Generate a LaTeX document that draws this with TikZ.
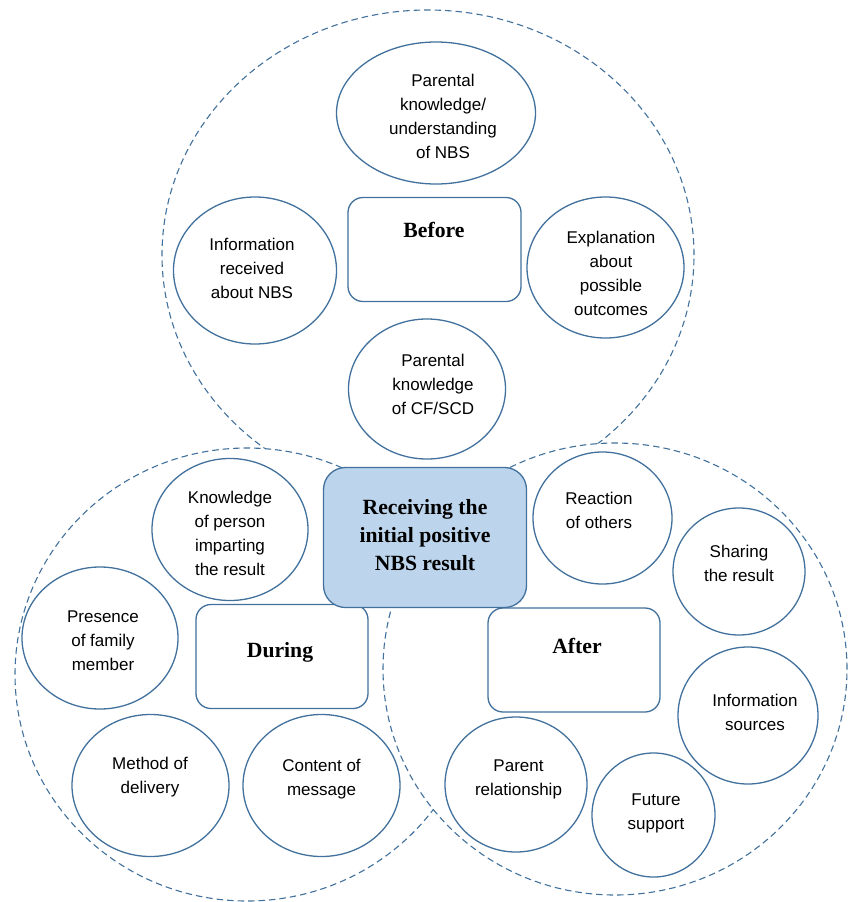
\documentclass[tikz,border=0pt]{standalone}
\usepackage{fontspec}
\setmainfont{Liberation Serif}
\newfontfamily\arialf{Liberation Sans}
\usetikzlibrary{shapes.geometric}
\definecolor{lineblue}{RGB}{65,113,156}
\definecolor{boxfill}{RGB}{189,213,236}
\tikzset{
  bigell/.style={ellipse, draw=lineblue, fill=white, dashed, dash pattern=on 6.5pt off 4pt, line width=1.1pt, inner sep=0pt},
  smallell/.style={ellipse, draw=lineblue, fill=white, line width=1.3pt, inner sep=0pt},
  stagebox/.style={draw=lineblue, fill=white, line width=1.3pt, rounded corners=15pt, inner sep=0pt},
  centerbox/.style={draw=lineblue, fill=boxfill, line width=1.3pt, rounded corners=22pt, inner sep=0pt},
  txt/.style={align=center, inner sep=0pt, font={\arialf\fontsize{17}{24}\selectfont}},
  ttl/.style={align=center, inner sep=0pt, font={\bfseries\fontsize{21.7}{28}\selectfont}}
}
\begin{document}
\begin{tikzpicture}[x=1pt,y=-1pt]
\useasboundingbox (0,0) rectangle (850,902);
% big dashed regions
\node[bigell, minimum width=532pt, minimum height=490pt] (regbefore) at (428,255) {};
\node[bigell, minimum width=464pt, minimum height=453pt] (regduring) at (247,674.5) {};
\node[bigell, minimum width=464pt, minimum height=452pt] (regafter) at (615,669) {};
% Before
\node[smallell, minimum width=199pt, minimum height=142pt] (b1) at (436,113) {};
\node[txt] (b1t) at (443,116) {Parental\\knowledge/\\understanding\\of NBS};
\node[stagebox, minimum width=173pt, minimum height=104pt] (beforebox) at (434.5,249.5) {};
\node[ttl] (beforet) at (434,230) {Before};
\node[smallell, minimum width=163pt, minimum height=147pt] (b2) at (255,270.5) {};
\node[txt] (b2t) at (252,268) {Information\\received\\about NBS};
\node[smallell, minimum width=157pt, minimum height=141pt] (b3) at (605.5,267.5) {};
\node[txt] (b3t) at (611,273) {Explanation\\about\\possible\\outcomes};
\node[smallell, minimum width=157pt, minimum height=140pt] (b4) at (427,389) {};
\node[txt] (b4t) at (433,384) {Parental\\knowledge\\of CF/SCD};
% During
\node[smallell, minimum width=156pt, minimum height=142pt] (d1) at (230,529.5) {};
\node[txt] (d1t) at (230,533) {Knowledge\\of person\\imparting\\the result};
\node[smallell, minimum width=156pt, minimum height=142pt] (d2) at (100,638) {};
\node[txt] (d2t) at (103,641) {Presence\\of family\\member};
\node[stagebox, minimum width=172pt, minimum height=104pt] (duringbox) at (282,656.5) {};
\node[ttl] (duringt) at (280,652) {During};
\node[smallell, minimum width=157pt, minimum height=142pt] (d3) at (150.5,785.5) {};
\node[txt] (d3t) at (150,777) {Method of\\delivery};
\node[smallell, minimum width=157pt, minimum height=142pt] (d4) at (321.5,785.5) {};
\node[txt] (d4t) at (321.5,779.5) {Content of\\message};
% After
\node[smallell, minimum width=139pt, minimum height=132pt] (a1) at (602.5,518) {};
\node[txt] (a1t) at (599,510.5) {Reaction\\of others};
\node[smallell, minimum width=132pt, minimum height=127pt] (a2) at (739,571.5) {};
\node[txt] (a2t) at (739,563.5) {Sharing\\the result};
\node[stagebox, minimum width=172pt, minimum height=104pt] (afterbox) at (574,660) {};
\node[ttl] (aftert) at (577,646) {After};
\node[smallell, minimum width=140pt, minimum height=137pt] (a3) at (748,715.5) {};
\node[txt] (a3t) at (755,712.5) {Information\\sources};
\node[smallell, minimum width=142pt, minimum height=135pt] (a4) at (516,784.5) {};
\node[txt] (a4t) at (518.5,779) {Parent\\relationship};
\node[smallell, minimum width=123pt, minimum height=124pt] (a5) at (653.5,815) {};
\node[txt] (a5t) at (656,813) {Future\\support};
% centre
\node[centerbox, minimum width=203pt, minimum height=140pt] (centre) at (425,537.5) {};
\node[ttl] (centret) at (425,535.5) {Receiving the\\initial positive\\NBS result};
\end{tikzpicture}
\end{document}
